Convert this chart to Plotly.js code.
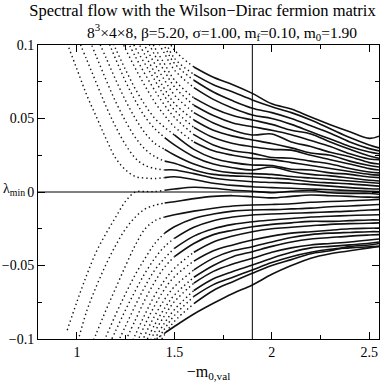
<!DOCTYPE html>
<html>
<head>
<meta charset="utf-8">
<script src="https://cdn.plot.ly/plotly-3.0.1.min.js"></script>
<style>
  body { margin: 0; background: white; }
</style>
</head>
<body>
<div id="chart"></div>
<script>
const _ = null;

// -m0,val grid the flow values were read at
const mVal = [0.95, 1.0, 1.05, 1.1, 1.15, 1.2, 1.25, 1.3, 1.35, 1.4, 1.45, 1.5,
  1.6, 1.7, 1.8, 1.9, 2.0, 2.1, 2.2, 2.3, 2.4, 2.5, 2.55];

const m0 = 1.9; // reference mass, vertical line

// positive eigenvalue branches, lowest first
const posFlow = [
  [0.101, 0.0835, 0.066, 0.051, 0.036, 0.0227, 0.015, 0.0105, 0.0095, 0.0092, 0.0098, 0.0104, 0.0085, 0.006, 0.0045, 0.0036, 0.003, 0.0025, 0.002, 0.0015, 0.001, 0.0005, 0.0003],
  [_, 0.106, 0.09, 0.074, 0.058, 0.044, 0.032, 0.023, 0.018, 0.016, 0.015, 0.015, 0.0125, 0.0095, 0.008, 0.007, 0.0065, 0.006, 0.005, 0.004, 0.003, 0.0022, 0.002],
  [_, _, 0.108, 0.092, 0.076, 0.061, 0.048, 0.037, 0.029, 0.024, 0.021, 0.0195, 0.015, 0.012, 0.011, 0.0104, 0.0095, 0.0085, 0.007, 0.0062, 0.0055, 0.0045, 0.004],
  [_, _, _, 0.106, 0.091, 0.076, 0.062, 0.05, 0.04, 0.033, 0.029, 0.0252, 0.019, 0.015, 0.013, 0.0125, 0.012, 0.0105, 0.0095, 0.0085, 0.0075, 0.0065, 0.006],
  [_, _, _, _, 0.106, 0.09, 0.075, 0.062, 0.051, 0.043, 0.037, 0.032, 0.024, 0.019, 0.0165, 0.015, 0.017, 0.014, 0.012, 0.011, 0.0095, 0.008, 0.0075],
  [_, _, _, _, 0.112, 0.097, 0.083, 0.07, 0.059, 0.05, 0.044, 0.0388, 0.029, 0.023, 0.02, 0.0184, 0.018, 0.0155, 0.015, 0.013, 0.012, 0.0102, 0.0098],
  [_, _, _, _, _, 0.111, 0.097, 0.084, 0.072, 0.061, 0.052, 0.0444, 0.034, 0.028, 0.025, 0.0229, 0.022, 0.02, 0.018, 0.016, 0.014, 0.012, 0.0115],
  [_, _, _, _, _, _, 0.105, 0.092, 0.08, 0.069, 0.059, 0.0508, 0.039, 0.032, 0.028, 0.0263, 0.0235, 0.023, 0.021, 0.019, 0.016, 0.0136, 0.013],
  [_, _, _, _, _, _, 0.111, 0.098, 0.087, 0.076, 0.065, 0.0558, 0.044, 0.037, 0.033, 0.0308, 0.029, 0.0285, 0.025, 0.022, 0.019, 0.0159, 0.015],
  [_, _, _, _, _, _, _, 0.105, 0.093, 0.081, 0.07, 0.0603, 0.049, 0.042, 0.038, 0.0354, 0.033, 0.03, 0.0265, 0.025, 0.021, 0.018, 0.017],
  [_, _, _, _, _, _, _, 0.112, 0.099, 0.087, 0.076, 0.066, 0.054, 0.047, 0.042, 0.0388, 0.0395, 0.034, 0.031, 0.027, 0.024, 0.02, 0.019],
  [_, _, _, _, _, _, _, _, 0.106, 0.093, 0.082, 0.0716, 0.059, 0.052, 0.047, 0.0444, 0.042, 0.039, 0.035, 0.031, 0.026, 0.0225, 0.022],
  [_, _, _, _, _, _, _, _, 0.111, 0.098, 0.087, 0.0762, 0.064, 0.057, 0.052, 0.049, 0.046, 0.042, 0.0395, 0.034, 0.029, 0.0245, 0.023],
  [_, _, _, _, _, _, _, _, _, 0.106, 0.094, 0.083, 0.071, 0.063, 0.057, 0.0524, 0.05, 0.046, 0.041, 0.036, 0.031, 0.0272, 0.026],
  [_, _, _, _, _, _, _, _, _, 0.112, 0.099, 0.0875, 0.076, 0.068, 0.062, 0.057, 0.054, 0.05, 0.045, 0.04, 0.034, 0.0295, 0.028],
  [_, _, _, _, _, _, _, _, _, _, 0.104, 0.091, 0.08, 0.073, 0.068, 0.0626, 0.058, 0.054, 0.049, 0.043, 0.037, 0.032, 0.03],
  [_, _, _, _, _, _, _, _, _, _, 0.108, 0.0966, 0.085, 0.078, 0.073, 0.0671, 0.06, 0.0565, 0.051, 0.0458, 0.041, 0.0365, 0.038],
];

// negative eigenvalue branches, highest first
const negFlow = [
  [-0.094, -0.0746, -0.0565, -0.0404, -0.028, -0.0168, -0.0062, 0.0, 0.0003, 0.0003, 0.0012, 0.002, 0.0032, 0.0025, 0.0012, 0.0005, -0.0005, 0.0005, 0.001, -0.0005, -0.001, -0.001, -0.0015],
  [_, -0.104, -0.081, -0.064, -0.049, -0.036, -0.025, -0.017, -0.0115, -0.009, -0.0075, -0.0066, -0.0045, -0.003, -0.0025, -0.0032, -0.004, -0.003, -0.002, -0.0025, -0.003, -0.0035, -0.0035],
  [_, _, -0.112, -0.096, -0.08, -0.065, -0.05, -0.036, -0.025, -0.0195, -0.017, -0.0155, -0.013, -0.011, -0.0095, -0.0088, -0.0085, -0.008, -0.007, -0.0065, -0.006, -0.0054, -0.005],
  [_, _, _, -0.112, -0.098, -0.083, -0.069, -0.056, -0.045, -0.035, -0.028, -0.0236, -0.018, -0.015, -0.013, -0.0122, -0.012, -0.0115, -0.011, -0.01, -0.0095, -0.0088, -0.0085],
  [_, _, _, _, -0.108, -0.094, -0.08, -0.067, -0.055, -0.045, -0.037, -0.0315, -0.024, -0.0195, -0.017, -0.0156, -0.015, -0.0145, -0.014, -0.0135, -0.013, -0.0122, -0.012],
  [_, _, _, _, _, -0.105, -0.091, -0.077, -0.064, -0.053, -0.045, -0.0383, -0.03, -0.025, -0.022, -0.0202, -0.019, -0.018, -0.017, -0.0165, -0.016, -0.0156, -0.0155],
  [_, _, _, _, _, _, -0.101, -0.087, -0.073, -0.061, -0.051, -0.044, -0.035, -0.029, -0.026, -0.0236, -0.022, -0.021, -0.02, -0.02, -0.0195, -0.019, -0.019],
  [_, _, _, _, _, _, -0.112, -0.097, -0.083, -0.07, -0.06, -0.0519, -0.041, -0.034, -0.03, -0.027, -0.025, -0.024, -0.023, -0.022, -0.0215, -0.0213, -0.021],
  [_, _, _, _, _, _, _, -0.105, -0.09, -0.077, -0.066, -0.0576, -0.047, -0.04, -0.036, -0.0327, -0.03, -0.028, -0.027, -0.026, -0.025, -0.0247, -0.0245],
  [_, _, _, _, _, _, _, -0.113, -0.097, -0.084, -0.073, -0.0644, -0.053, -0.045, -0.04, -0.0372, -0.034, -0.031, -0.029, -0.028, -0.0275, -0.027, -0.027],
  [_, _, _, _, _, _, _, _, -0.103, -0.09, -0.079, -0.0701, -0.058, -0.05, -0.044, -0.0406, -0.037, -0.034, -0.032, -0.031, -0.03, -0.0293, -0.029],
  [_, _, _, _, _, _, _, _, -0.109, -0.095, -0.084, -0.0746, -0.062, -0.054, -0.049, -0.0451, -0.041, -0.038, -0.036, -0.035, -0.034, -0.0327, -0.032],
  [_, _, _, _, _, _, _, _, -0.114, -0.1, -0.089, -0.08, -0.067, -0.059, -0.054, -0.0497, -0.045, -0.041, -0.038, -0.037, -0.036, -0.0349, -0.034],
  [_, _, _, _, _, _, _, _, _, -0.104, -0.093, -0.084, -0.071, -0.063, -0.058, -0.053, -0.048, -0.044, -0.041, -0.039, -0.038, -0.0372, -0.037],
  [_, _, _, _, _, _, _, _, _, -0.108, -0.097, -0.088, -0.076, -0.067, -0.061, -0.0553, -0.05, -0.046, -0.042, -0.04, -0.037, -0.036, -0.035],
  [_, _, _, _, _, _, _, _, -0.104, -0.1005, -0.096, -0.0915, -0.083, -0.0757, -0.069, -0.0633, -0.056, -0.05, -0.045, -0.042, -0.04, -0.038, -0.037],
];

const SERIF = '"Liberation Serif", "Times New Roman", serif';

// where the sampled points start to run together into a solid line:
// first grid point past 1.45 where the branch has flattened out
function solidStart(values) {
  for (let i = 0; i < mVal.length - 1; i++) {
    if (mVal[i] < 1.45 || values[i] === null) continue;
    const slope = Math.abs((values[i + 1] - values[i]) / (mVal[i + 1] - mVal[i]));
    if (slope < 0.1) return i;
  }
  return mVal.length - 1;
}

function branchTraces(values) {
  const s = solidStart(values);
  const left = {
    x: mVal.slice(0, s + 1),
    y: values.slice(0, s + 1),
    type: "scatter",
    mode: "lines",
    line: { color: "#111", width: 1.4, dash: "1.4px,3px", shape: "spline", smoothing: 1 },
    hoverinfo: "skip",
  };
  const right = {
    x: mVal.slice(s),
    y: values.slice(s),
    type: "scatter",
    mode: "lines",
    line: { color: "#111", width: 1.6, shape: "spline", smoothing: 1 },
    hoverinfo: "skip",
  };
  return [left, right];
}

const traces = [];
posFlow.concat(negFlow).forEach((row) => traces.push(...branchTraces(row)));

const axisCommon = {
  ticks: "inside",
  ticklen: 7,
  tickwidth: 1,
  tickcolor: "black",
  showline: true,
  linecolor: "black",
  linewidth: 1,
  mirror: "allticks",
  showgrid: false,
  zeroline: false,
  tickfont: { size: 14, family: SERIF, color: "black" },
};

const layout = {
  width: 382,
  height: 382,
  margin: { l: 38, r: 3, t: 45, b: 43 },
  paper_bgcolor: "white",
  plot_bgcolor: "white",
  showlegend: false,
  font: { family: SERIF, color: "black", size: 14 },
  title: {
    text: "Spectral flow with the Wilson\u2212Dirac fermion matrix",
    font: { size: 16.5, family: SERIF },
    xref: "container",
    yref: "container",
    x: 0.53,
    xanchor: "center",
    y: 0.972,
    yanchor: "middle",
  },
  xaxis: {
    ...axisCommon,
    range: [0.8, 2.55],
    tick0: 0,
    dtick: 0.5,
    minor: { dtick: 0.25, ticks: "inside", ticklen: 4, tickcolor: "black", showgrid: false },
    title: { text: "\u2212m<sub>0,val</sub>", font: { size: 16, family: SERIF }, standoff: 13 },
  },
  yaxis: {
    ...axisCommon,
    range: [-0.1, 0.1],
    tick0: 0,
    dtick: 0.05,
    minor: { dtick: 0.025, ticks: "inside", ticklen: 4, tickcolor: "black", showgrid: false },
  },
  shapes: [
    { type: "line", xref: "x", yref: "paper", x0: m0, x1: m0, y0: 0, y1: 1, line: { color: "black", width: 1 } },
    { type: "line", xref: "paper", yref: "y", x0: 0, x1: 1, y0: 0, y1: 0, line: { color: "black", width: 1 } },
  ],
  annotations: [
    {
      text: "8<sup>3</sup>\u00d74\u00d78, \u03b2=5.20, \u03c3=1.00, m<sub>f</sub>=0.10, m<sub>0</sub>=1.90",
      xref: "paper",
      yref: "paper",
      x: 0.54,
      y: 1.044,
      xanchor: "center",
      yanchor: "middle",
      showarrow: false,
      font: { size: 15.5, family: SERIF },
    },
    {
      text: "\u03bb<sub>min</sub>",
      xref: "paper",
      yref: "paper",
      x: -0.07,
      y: 0.51,
      xanchor: "center",
      yanchor: "middle",
      showarrow: false,
      font: { size: 14, family: SERIF },
    },
  ],
};

Plotly.newPlot("chart", traces, layout, { displayModeBar: false, staticPlot: true });
</script>
</body>
</html>
